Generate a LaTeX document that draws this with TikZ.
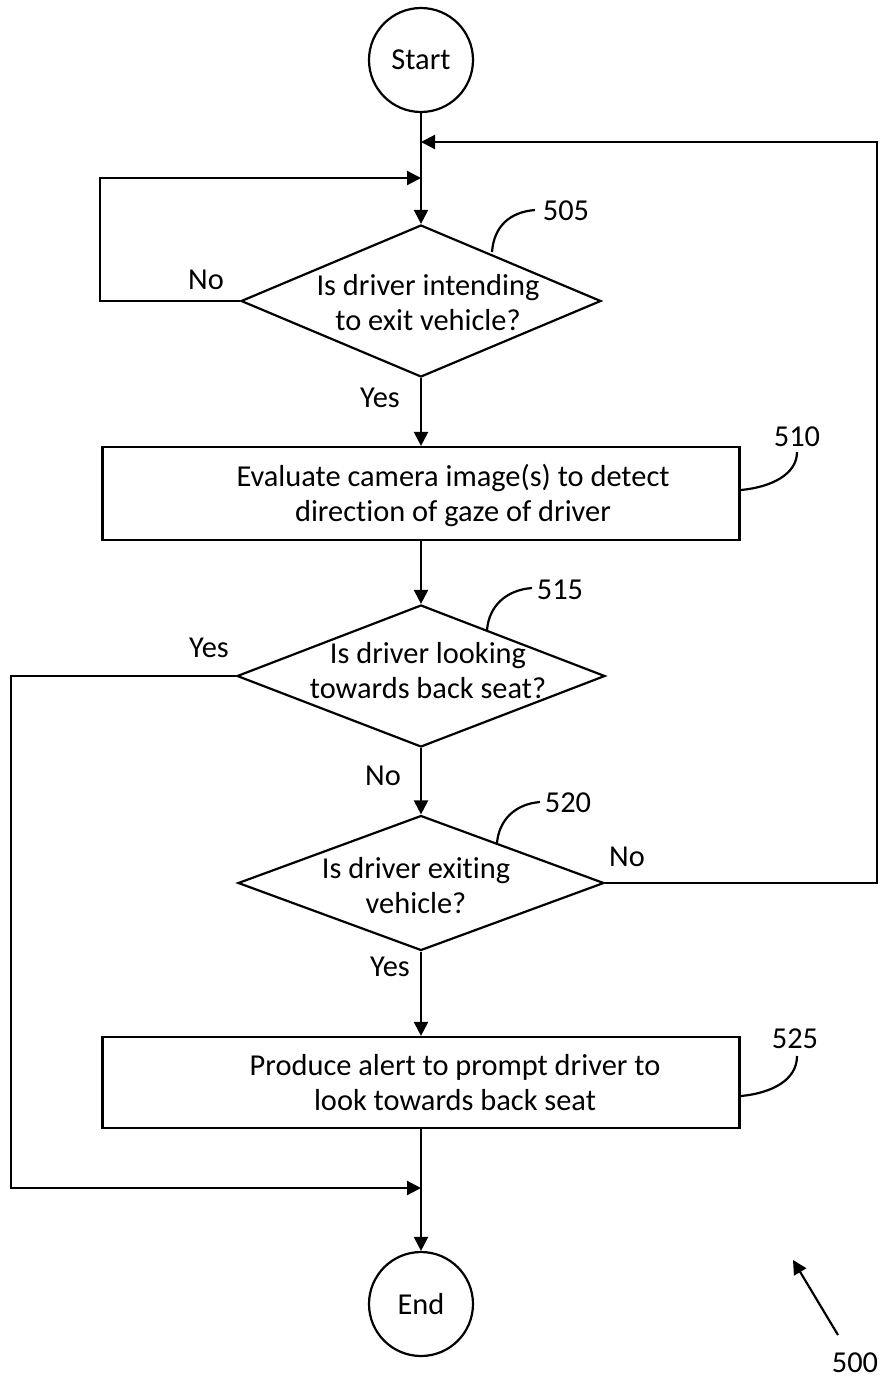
\documentclass[tikz,border=0pt]{standalone}
\usepackage{fontspec}
\setmainfont[Ligatures=NoCommon]{Carlito}
\usetikzlibrary{shapes.geometric,arrows.meta}
\begin{document}
\begin{tikzpicture}[x=0.5pt,y=-0.5pt,line width=1.1pt,
  >={Triangle[length=7pt,width=7pt]},
  every node/.style={font=\fontsize{15.2}{17.5}\selectfont},
  term/.style={circle,draw,minimum size=52pt,inner sep=0},
  dec/.style={diamond,draw,inner sep=0},
  proc/.style={rectangle,draw,minimum width=318.5pt,inner sep=0},
  txt/.style={inner sep=0,align=center},
  lbl/.style={inner sep=0}]
\useasboundingbox (0,0) rectangle (879,1382);

\node[term] (start) at (421,60) {Start};
\node[dec,minimum width=180pt,minimum height=76pt] (d505) at (421,301) {};
\node[txt] (t505) at (428,303) {Is driver intending\\to exit vehicle?};
\node[proc,minimum height=46.5pt] (b510) at (421,493.5) {};
\node[txt] (t510) at (453,495) {Evaluate camera image(s) to detect\\direction of gaze of driver};
\node[dec,minimum width=184pt,minimum height=71pt] (d515) at (421,676) {};
\node[txt] (t515) at (428,671) {Is driver looking\\towards back seat?};
\node[dec,minimum width=183pt,minimum height=67.5pt] (d520) at (421,883) {};
\node[txt] (t520) at (416,886) {Is driver exiting\\vehicle?};
\node[proc,minimum height=45.5pt] (b525) at (421,1082.5) {};
\node[txt] (t525) at (455,1083) {Produce alert to prompt driver to\\look towards back seat};
\node[term] (end) at (421,1304) {End};

\coordinate (j2) at (421,142);
\coordinate (j1) at (421,178);
\coordinate (j3) at (421,1188);

\draw[->] (start) -- (d505);
\draw[->] (d505) -- (b510);
\draw[->] (b510) -- (d515);
\draw[->] (d515) -- (d520);
\draw[->] (d520) -- (b525);
\draw[->] (b525) -- (end);
\draw[->] (d505.west) -- ++(-140,0) |- (j1);
\draw[->] (d520.east) -- ++(272,0) |- (j2);
\draw[->] (d515.west) -- ++(-225,0) |- (j3);

\node[lbl] (no1) at (206,280) {No};
\node[lbl] (yes1) at (380,398) {Yes};
\node[lbl] (yes2) at (209,648) {Yes};
\node[lbl] (no2) at (383,776) {No};
\node[lbl] (no3) at (627,857) {No};
\node[lbl] (yes3) at (390,967) {Yes};

\node[lbl] (l505) at (566,211) {505};
\node[lbl] (l510) at (797,437) {510};
\node[lbl] (l515) at (560,590) {515};
\node[lbl] (l520) at (568,803) {520};
\node[lbl] (l525) at (795,1039) {525};
\node[lbl] (l500) at (855,1363) {500};

\draw (492,252) .. controls (494,226) and (510,212) .. (535,210);
\draw (741,490) .. controls (772,487) and (797,474) .. (797,452);
\draw (487,630) .. controls (489,606) and (506,590) .. (532,588);
\draw (497,843) .. controls (499,820) and (515,804) .. (540,802);
\draw (741,1096) .. controls (772,1093) and (797,1080) .. (797,1056);

\coordinate (a500s) at (838,1335);
\coordinate (a500e) at (793,1260);
\draw[->] (a500s) -- (a500e);
\end{tikzpicture}
\end{document}
